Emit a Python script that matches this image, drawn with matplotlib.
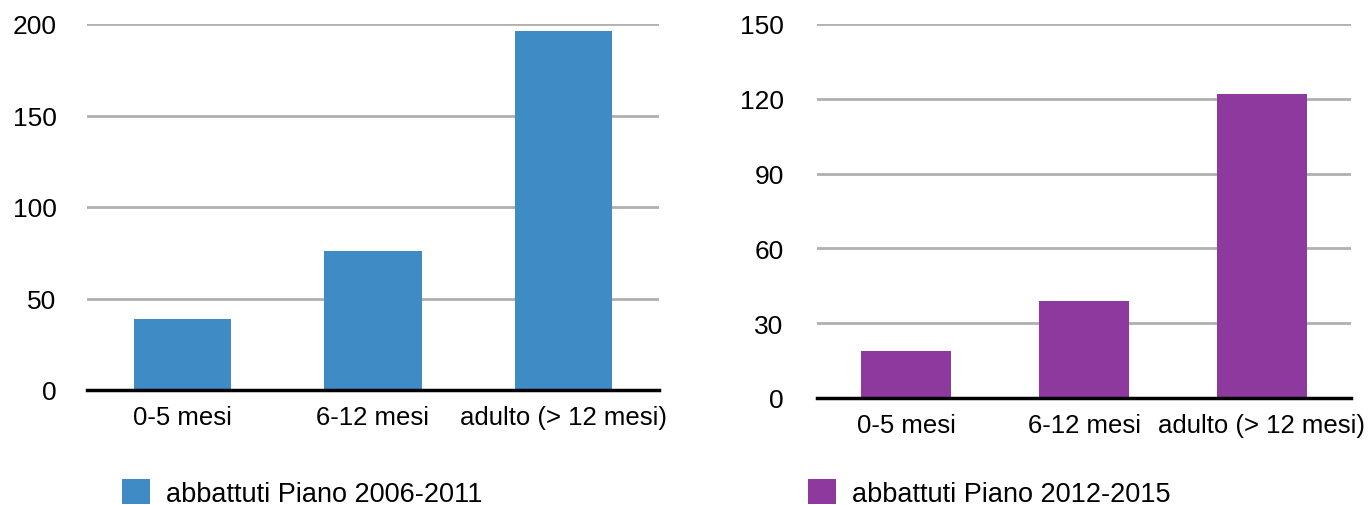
import numpy as np
import matplotlib.pyplot as plt

plt.rcParams['font.family'] = ['Liberation Sans', 'DejaVu Sans']

# dati
categorie = ['0-5 mesi', '6-12 mesi', 'adulto (> 12 mesi)']
piano_2006_2011 = [39, 76, 196]
piano_2012_2015 = [19, 39, 122]

tick_sx = [0, 50, 100, 150, 200]
tick_dx = [0, 30, 60, 90, 120, 150]

blu = '#3f8bc6'
viola = '#8e399d'
grigio = '#b0b0b0'

W, H = 1369, 506
fig = plt.figure(figsize=(W / 100, H / 100), dpi=100)


def pannello(rect, valori, ticks, colore, etichetta, pad_y):
    l, b, r, t = rect
    ax = fig.add_axes([l / W, 1 - b / H, (r - l) / W, (b - t) / H])
    x = np.arange(len(categorie))
    barre = ax.bar(x, valori, width=0.51, color=colore, zorder=2, label=etichetta)
    ax.set_xlim(-0.5, len(categorie) - 0.5)
    ax.set_ylim(0, ticks[-1])
    ax.set_yticks(ticks)
    ax.set_xticks(x)
    ax.set_xticklabels(categorie)
    for s in ['top', 'right', 'left']:
        ax.spines[s].set_visible(False)
    ax.spines['bottom'].set_linewidth(2.5)
    ax.spines['bottom'].set_color('black')
    ax.spines['bottom'].set_zorder(3)
    ax.yaxis.grid(True, color=grigio, lw=2, zorder=0)
    ax.set_axisbelow(True)
    ax.tick_params(axis='y', length=0, pad=pad_y, labelsize=19)
    ax.tick_params(axis='x', length=0, pad=11, labelsize=18.5)
    return ax, barre


ax1, b1 = pannello((87, 391, 659, 25), piano_2006_2011, tick_sx, blu,
                   'abbattuti Piano 2006-2011', 22)
ax2, b2 = pannello((817, 399, 1351, 25), piano_2012_2015, tick_dx, viola,
                   'abbattuti Piano 2012-2015', 24)

fig.legend(handles=[b1], loc='center left', bbox_to_anchor=(108 / W, 1 - 494 / H),
           frameon=False, fontsize=19.5, handlelength=1.05, handleheight=1.05,
           handletextpad=0.6, borderpad=0)
fig.legend(handles=[b2], loc='center left', bbox_to_anchor=(794 / W, 1 - 494 / H),
           frameon=False, fontsize=19.5, handlelength=1.05, handleheight=1.05,
           handletextpad=0.6, borderpad=0)

plt.savefig('out.png', dpi=100)
